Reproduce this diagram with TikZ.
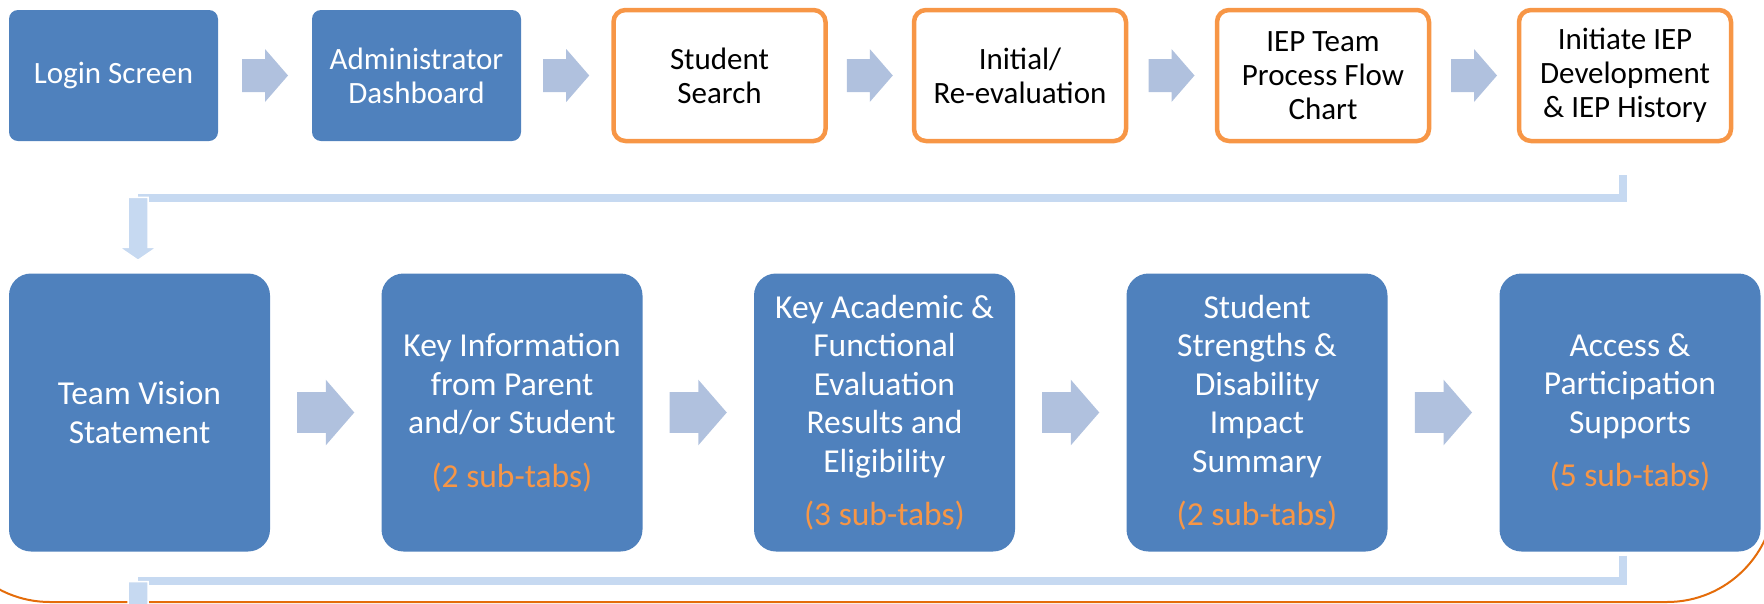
\documentclass[tikz,border=0pt]{standalone}
\usepackage{fontspec}
\setmainfont{Carlito}
\usetikzlibrary{calc}

\definecolor{boxblue}{HTML}{4F81BD}
\definecolor{boxorange}{HTML}{F79646}
\definecolor{arrowgrey}{HTML}{B0C1DE}
\definecolor{linkblue}{HTML}{C6D9F1}
\definecolor{rimorange}{HTML}{E46C0A}

\newcommand{\subtabs}[1]{\textcolor{boxorange}{(#1 sub-tabs)}}

\begin{document}
\begin{tikzpicture}[x=1pt,y=-1pt,
		    topbox/.style={rounded corners=9,minimum width=209,minimum height=131,inner sep=0mm,align=center,font=\fontsize{31}{34}\selectfont},
		    screen/.style={topbox,fill=boxblue,text=white},
		    tab/.style={topbox,draw=boxorange,line width=4.5,minimum width=212,rounded corners=12,text=black},
		    rowbox/.style={rounded corners=22,minimum width=261,minimum height=278,inner sep=0mm,align=center,fill=boxblue,text=white,font=\fontsize{33.5}{38.5}\selectfont},
		    link/.style={linkblue,line width=8},
		    fatarrow/.pic={\fill[arrowgrey] (-23,-16.5) -- (0,-16.5) -- (0,-26.5) -- (23,0) -- (0,26.5) -- (0,16.5) -- (-23,16.5) -- cycle;},
		    droparrow/.pic={\filldraw[fill=linkblue,draw=white,line width=1.5] (-10,0) -- (10,0) -- (10,50) -- (19,50) -- (0,63) -- (-19,50) -- (-10,50) -- cycle;},
		]
	    \useasboundingbox (0,0) rectangle (1764,603);
	    \clip (0,0) rectangle (1764,603);

	    %frame round the second row
	    \draw[rimorange,line width=2,rounded corners=108] (-58,420) -- (-58,602) -- (1775,602) -- (1775,420);

	    %first row
	    \node[screen] (login) at (113.5,75.5) {Login Screen};
	    \node[screen] (admin) at (416.5,75.5) {Administrator\\Dashboard};
	    \node[tab] (search) at (719.5,75.5) {Student\\Search};
	    \node[tab] (eval) at (1020,75.5) {Initial/\\Re-evaluation};
	    \node[tab] (flow) at (1323,75.5) {IEP Team\\Process Flow\\Chart};
	    \node[tab] (initiate) at (1625,75.5) {Initiate IEP\\Development\\\& IEP History};

	    \pic at ($(login.east)!0.5!(admin.west)$) {fatarrow};
	    \pic at ($(admin.east)!0.5!(search.west)$) {fatarrow};
	    \pic at ($(search.east)!0.5!(eval.west)$) {fatarrow};
	    \pic at ($(eval.east)!0.5!(flow.west)$) {fatarrow};
	    \pic at ($(flow.east)!0.5!(initiate.west)$) {fatarrow};

	    %second row
	    \node[rowbox] (vision) at (139.5,412.5) {Team Vision\\Statement};
	    \node[rowbox] (keyinfo) at (512,412.5) {Key Information\\from Parent\\and/or Student\\[15pt]\subtabs{2}};
	    \node[rowbox] (academic) at (884.5,412.5) {Key Academic \&\\Functional\\Evaluation\\Results and\\Eligibility\\[15pt]\subtabs{3}};
	    \node[rowbox] (strengths) at (1257,412.5) {Student\\Strengths \&\\Disability\\Impact\\Summary\\[15pt]\subtabs{2}};
	    \node[rowbox] (access) at (1630,412.5) {Access \&\\Participation\\Supports\\[15pt]\subtabs{5}};

	    \pic[scale=1.24] at ($(vision.east)!0.5!(keyinfo.west)$) {fatarrow};
	    \pic[scale=1.24] at ($(keyinfo.east)!0.5!(academic.west)$) {fatarrow};
	    \pic[scale=1.24] at ($(academic.east)!0.5!(strengths.west)$) {fatarrow};
	    \pic[scale=1.24] at ($(strengths.east)!0.5!(access.west)$) {fatarrow};

	    %row to row
	    \draw[link] ($(initiate.south)+(-2,32)$) |- ($(vision.north)+(-1.5,-75)$);
	    \pic at ($(vision.north)+(-1.5,-76)$) {droparrow};

	    %on to the next row
	    \draw[link] ($(access.south)+(-7,4)$) |- ($(vision.south)+(-1.5,29)$);
	    \pic at ($(vision.south)+(-1.5,30)$) {droparrow};
	\end{tikzpicture}
\end{document}
